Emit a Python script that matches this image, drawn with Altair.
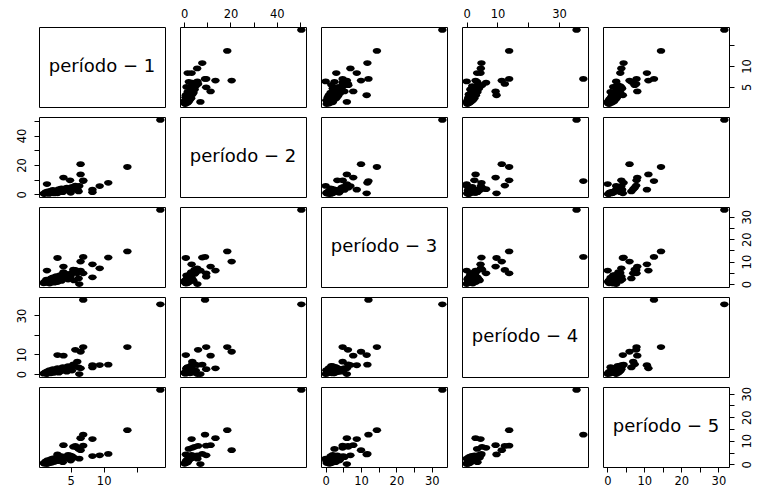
import altair as alt
import pandas as pd

# Five measurement periods, one row per subject
p1 = [18.6, 6.9, 13.6, 10.7, 9.4, 8.3, 8.3, 6.9, 6.5, 6.5, 3.0, 3.9, 6.3, 1.4, 5.4, 6.0, 4.9, 6.2, 5.7, 3.9,
      0.9, 1.0, 1.2, 1.3, 1.5, 1.7, 1.8, 2.0, 2.1, 2.3, 2.5, 2.6, 2.8, 3.0, 3.2, 3.4, 3.6, 3.8, 4.2, 4.4, 4.6, 5.0, 5.2, 5.5]
p2 = [50.6, 9.0, 18.6, 7.8, 5.6, 1.5, 3.2, 9.5, 20.5, 13.5, 0.7, 11.4, 5.7, 7.0, 4.5, 3.5, 9.5, 2.0, 6.0, 3.0,
      0.5, 0.2, 1.5, 0.8, 2.0, 0.3, 1.0, 2.5, 1.2, 3.0, 0.6, 1.8, 2.2, 1.0, 3.5, 2.0, 4.0, 1.5, 2.8, 4.5, 3.2, 1.0, 5.0, 3.5]
p3 = [33.0, 12.1, 14.5, 11.8, 7.0, 3.0, 8.8, 4.8, 10.0, 6.0, 11.6, 7.8, 0.0, 6.0, 6.4, 4.8, 3.3, 2.5, 6.3, 5.3,
      0.3, 1.0, 0.5, 2.0, 0.8, 1.5, 0.2, 2.5, 1.2, 3.0, 0.6, 1.8, 3.5, 0.9, 2.2, 4.0, 1.4, 2.8, 3.2, 4.5, 2.0, 3.8, 5.0, 1.6]
p4 = [35.7, 37.9, 13.8, 4.8, 4.6, 3.4, 4.5, 13.8, 11.4, 2.9, 9.7, 9.4, 0.0, 0.0, 5.0, 6.3, 2.5, 3.4, 12.4, 3.0,
      0.2, 0.5, 1.0, 0.3, 1.5, 0.8, 2.0, 0.4, 1.2, 2.5, 0.6, 1.8, 1.0, 3.0, 0.7, 2.2, 1.5, 3.5, 2.0, 1.2, 4.0, 2.8, 1.8, 4.2]
p5 = [31.6, 12.6, 14.5, 4.4, 3.8, 3.5, 10.7, 7.9, 6.0, 11.1, 4.2, 8.1, 2.4, 0.1, 7.4, 7.0, 3.8, 6.5, 7.8, 3.0,
      0.5, 0.2, 1.2, 0.8, 1.8, 0.4, 1.5, 2.2, 0.6, 2.5, 1.0, 2.0, 2.8, 1.3, 3.0, 1.8, 3.5, 0.9, 2.5, 3.2, 4.0, 1.6, 3.5, 2.8]

names = ["período − 1", "período − 2", "período − 3", "período − 4", "período − 5"]
cols = ["p1", "p2", "p3", "p4", "p5"]

tick_vals = {
    "p1": [5, 10, 15],
    "p2": [0, 10, 20, 30, 40, 50],
    "p3": [0, 5, 10, 15, 20, 25, 30],
    "p4": [0, 10, 20, 30],
    "p5": [0, 5, 10, 15, 20, 25, 30],
}
label_vals = {
    "p1": [5, 10],
    "p2": [0, 20, 40],
    "p3": [0, 10, 20, 30],
    "p4": [0, 10, 30],
    "p5": [0, 10, 20, 30],
}

df = pd.DataFrame({"p1": p1, "p2": p2, "p3": p3, "p4": p4, "p5": p5})

W, H = 126, 80
FONT = "DejaVu Sans"
ELLIPSE = "M-1,0A1,0.68,0,1,0,1,0A1,0.68,0,1,0,-1,0Z"
LABEL_PAD = {"top": 3, "bottom": 3, "left": 7, "right": 7}


def domain(var):
    lo, hi = df[var].min(), df[var].max()
    r = hi - lo
    return [lo - 0.04 * r, hi + 0.04 * r]


def make_axis(var, orient):
    shown = " || ".join(f"datum.value == {v}" for v in label_vals[var])
    kw = dict(
        orient=orient, values=tick_vals[var], labelExpr=f"({shown}) ? datum.label : ''",
        grid=False, domain=False, ticks=True, tickSize=5, tickColor="black", tickWidth=1,
        labelFont=FONT, labelFontSize=11.5, labelColor="black", labelPadding=LABEL_PAD[orient],
        labelOverlap=False, labelFlush=False, labelBound=False, title=None,
    )
    if orient in ("left", "right"):
        kw.update(labelAngle=270, labelAlign="center",
                  labelBaseline="bottom" if orient == "left" else "top")
    return alt.Axis(**kw)


def x_axis(r, c):
    if r == 0 and c in (1, 3):
        return make_axis(cols[c], "top")
    if r == 4 and c in (0, 2, 4):
        return make_axis(cols[c], "bottom")
    return None


def y_axis(r, c):
    if c == 0 and r in (1, 3):
        return make_axis(cols[r], "left")
    if c == 4 and r in (0, 2, 4):
        return make_axis(cols[r], "right")
    return None


def enc_x(r, c):
    ax = x_axis(r, c)
    sc = alt.Scale(domain=domain(cols[c]), nice=False, zero=False)
    if ax is None:
        return alt.X(f"{cols[c]}:Q", scale=sc, axis=None)
    return alt.X(f"{cols[c]}:Q", scale=sc, axis=ax)


def enc_y(r, c):
    ax = y_axis(r, c)
    sc = alt.Scale(domain=domain(cols[r]), nice=False, zero=False)
    if ax is None:
        return alt.Y(f"{cols[r]}:Q", scale=sc, axis=None)
    return alt.Y(f"{cols[r]}:Q", scale=sc, axis=ax)


def panel(r, c):
    if r == c:
        label = alt.Chart(pd.DataFrame({"t": [names[r]]})).mark_text(
            font=FONT, fontSize=18, color="black", align="center", baseline="middle"
        ).encode(text="t:N", x=alt.value(W / 2), y=alt.value(H / 2))
        if x_axis(r, c) is None and y_axis(r, c) is None:
            return label.properties(width=W, height=H)
        frame = alt.Chart(df).mark_point(opacity=0).encode(x=enc_x(r, c), y=enc_y(r, c))
        return alt.layer(frame, label).properties(width=W, height=H)
    return alt.Chart(df).mark_point(
        shape=ELLIPSE, filled=True, color="black", opacity=1, size=72
    ).encode(x=enc_x(r, c), y=enc_y(r, c)).properties(width=W, height=H)


panels = [panel(r, c) for r in range(5) for c in range(5)]

chart = alt.concat(
    *panels, columns=5, spacing={"row": 10, "column": 15}, bounds="flush"
).properties(
    padding={"left": 15, "top": 7, "right": 0, "bottom": 0},
    background="white",
).configure_view(stroke="black", strokeWidth=1)

chart.save("out.html", embed_options={"renderer": "svg", "actions": False})
